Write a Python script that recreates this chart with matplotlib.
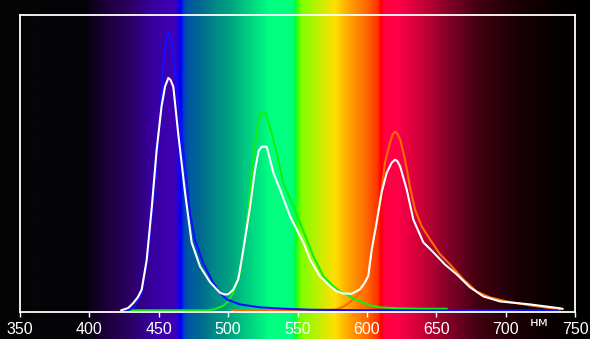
import numpy as np
import matplotlib
matplotlib.use('Agg')
import matplotlib.pyplot as plt

# background spectrum colour stops (nm, colour)
spec_nm = [335, 397, 408, 429, 445, 462, 464, 466, 468, 472, 480, 490, 501, 515, 530, 545,
           549, 550, 553, 565, 577, 588, 600, 608, 610, 613, 622, 638, 660, 681, 710, 739, 761]
spec_col = ['#050505', '#050308', '#180030', '#2c0060', '#3800a0', '#4000b8', '#2000e0', '#0000ff',
            '#0040c0', '#005aa0', '#006890', '#008888', '#00a080', '#00d080', '#00ff80', '#00ff80',
            '#00ff40', '#40ff00', '#80ff00', '#c0f000', '#ffe000', '#ffa000', '#ff6800', '#ff3000',
            '#ff0000', '#ff0040', '#ff0048', '#d00038', '#800028', '#400010', '#180005', '#050000',
            '#000000']

blue_nm = [425, 429, 433, 437.7, 441, 443.7, 447.3, 451, 453.3, 455.5, 456.9, 459.3, 463, 467.7,
           472.5, 476, 482, 489, 494, 499, 508.6, 523, 542, 560, 600, 737]
blue_val = [0, 0.002, 0.015, 0.06, 0.15, 0.26, 0.43, 0.655, 0.82, 0.92, 0.94, 0.915, 0.757, 0.544,
            0.33, 0.24, 0.16, 0.095, 0.06, 0.037, 0.02, 0.01, 0.005, 0.002, 0, 0]

green_nm = [429, 485, 490, 496.5, 500, 503.7, 508.6, 513.4, 518, 520.6, 523, 526.6, 530.2, 535,
            539.8, 547, 551.8, 556.6, 561.4, 568.6, 575.8, 580.6, 585.5, 590, 595, 602, 609.5,
            621.5, 640, 657.5]
green_val = [0, 0, 0.003, 0.015, 0.03, 0.06, 0.128, 0.284, 0.51, 0.60, 0.669, 0.672, 0.62, 0.534,
             0.43, 0.352, 0.297, 0.24, 0.183, 0.116, 0.082, 0.064, 0.054, 0.04, 0.031, 0.017, 0.01,
             0.007, 0.005, 0.005]

orange_nm = [503, 570, 578, 583, 587.8, 595, 599.9, 603.5, 607, 610.7, 613, 616.7, 618.5, 620.3,
             622, 624, 627.5, 631, 634.7, 639.5, 645.5, 652.7, 660, 669.5, 679, 688.7, 700.8,
             717.6, 739]
orange_val = [0, 0, 0.003, 0.012, 0.027, 0.06, 0.128, 0.206, 0.297, 0.409, 0.5, 0.568, 0.595, 0.605,
              0.598, 0.578, 0.51, 0.419, 0.341, 0.284, 0.24, 0.19, 0.155, 0.105, 0.064, 0.044, 0.03,
              0.017, 0.003]

white_nm = [423, 428, 431.7, 435, 437.7, 441.3, 445, 448.5, 452, 454.5, 456.9, 458.5, 460.5, 464,
            468.9, 473.7, 479.7, 487, 494, 497, 500, 503.7, 507.3, 511, 515.8, 519.4, 522, 524.2,
            527.8, 532.6, 537.4, 544.6, 549.4, 554.2, 559, 566, 573.4, 578, 583, 589, 595, 598,
            601, 603.5, 607, 610.7, 614.3, 617.9, 620.3, 622, 624, 628.7, 633.5, 640.7, 648,
            656.3, 664.7, 674.3, 684, 696, 717.6, 739, 741]
white_val = [0, 0.008, 0.025, 0.045, 0.07, 0.17, 0.35, 0.544, 0.69, 0.757, 0.787, 0.78, 0.757, 0.60,
             0.40, 0.23, 0.149, 0.095, 0.06, 0.054, 0.054, 0.07, 0.105, 0.206, 0.35, 0.476, 0.54,
             0.554, 0.554, 0.466, 0.409, 0.319, 0.274, 0.23, 0.172, 0.116, 0.082, 0.065, 0.057,
             0.056, 0.071, 0.09, 0.116, 0.206, 0.297, 0.40, 0.466, 0.5, 0.51, 0.505, 0.487, 0.409,
             0.307, 0.23, 0.196, 0.155, 0.122, 0.078, 0.047, 0.03, 0.02, 0.007, 0.005]

ticks = [350, 400, 450, 500, 550, 600, 650, 700, 750]

W, H = 590, 339
fig = plt.figure(figsize=(W / 100, H / 100), dpi=100)
fig.patch.set_facecolor('black')

# axes box in pixels
x0, x1, ytop, ybot = 20, 575, 15, 311.5
ppn = (x1 - x0) / 400.0
wl0 = 350 - x0 / ppn
wl1 = 750 + (W - x1) / ppn

# spectrum behind everything
bg = fig.add_axes([0, 0, 1, 1])
wl = np.linspace(wl0, wl1, 1200)
rgb = np.array([matplotlib.colors.to_rgb(c) for c in spec_col])
grad = np.stack([np.interp(wl, spec_nm, rgb[:, k]) for k in range(3)], axis=-1)
bg.imshow(grad[np.newaxis, :, :], extent=[wl0, wl1, 0, 1], aspect='auto', interpolation='bilinear')
bg.set_xlim(wl0, wl1)
bg.set_ylim(0, 1)
bg.axis('off')

ax = fig.add_axes([x0 / W, (H - ybot) / H, (x1 - x0) / W, (ybot - ytop) / H])
ax.patch.set_alpha(0)
ax.plot(orange_nm, orange_val, color='#ff6a00', lw=1.5)
ax.plot(green_nm, green_val, color='#10f010', lw=1.5)
ax.plot(blue_nm, blue_val, color='#1010ff', lw=1.5)
ax.plot(white_nm, white_val, color='white', lw=1.5)

ax.set_xlim(350, 750)
ax.set_ylim(-0.004, 1.0)
ax.set_xticks(ticks)
ax.set_yticks([])
for s in ax.spines.values():
    s.set_color('white')
    s.set_linewidth(1.3)
ax.tick_params(axis='x', colors='white', direction='out', length=3.5, width=1, pad=4,
               labelsize=11.5)
for t in ax.get_xticklabels():
    t.set_family('Liberation Sans')
ax.text(724, -0.04, 'нм', color='white', fontsize=9.5, family='DejaVu Sans',
        ha='center', va='center')

fig.savefig('out.png', dpi=100, facecolor='black')
